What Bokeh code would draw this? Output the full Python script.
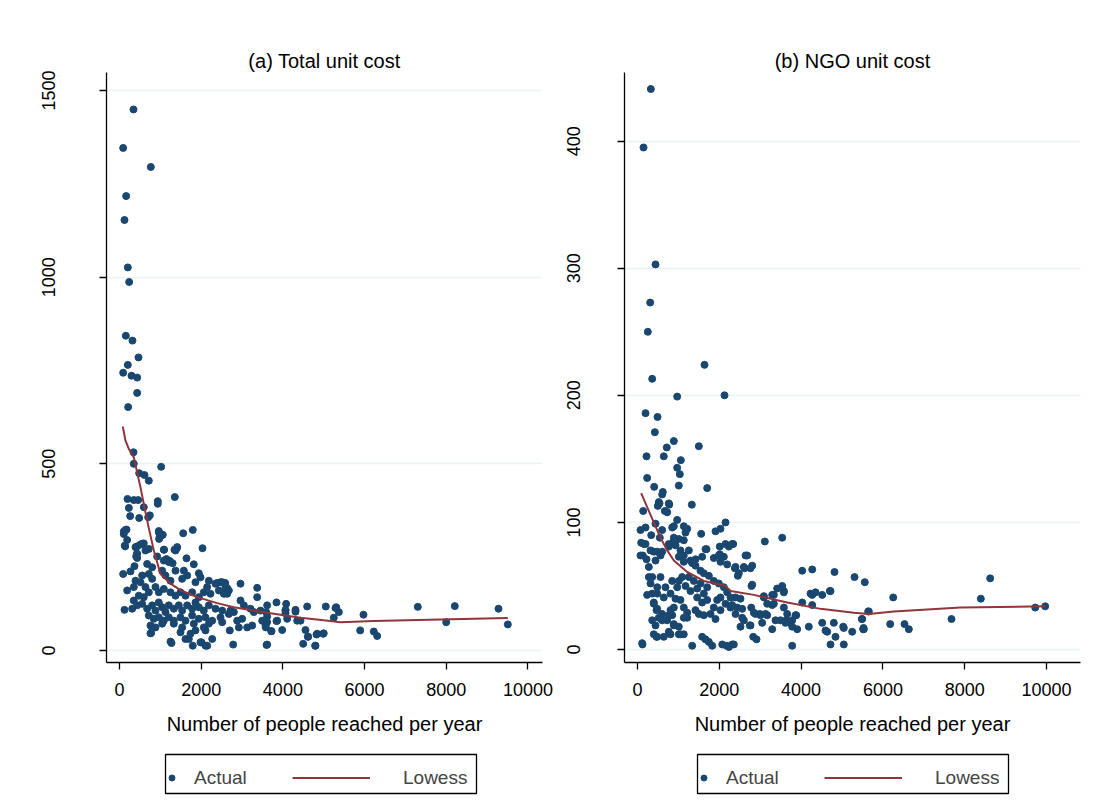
from bokeh.plotting import figure
from bokeh.models import Range1d, Legend, LegendItem, FixedTicker, BoxAnnotation
from bokeh.layouts import row, column
from bokeh.embed import file_html
from bokeh.resources import INLINE

# ---------------- data ----------------
x_ticks = [0, 2000, 4000, 6000, 8000, 10000]
a_yticks = [0, 500, 1000, 1500]
b_yticks = [0, 100, 200, 300, 400]
legend_labels = ["Actual", "Lowess"]

# (a) Total unit cost : people reached, unit cost
a_pts = [
    (343,1449),(90,1346),(767,1295),(163,1217),(122,1153),(204,1026),(237,987),(155,843),(318,830),(465,785),
    (204,765),(90,744),(294,736),(433,731),(433,690),(212,652),(343,531),(350,500),(1020,492),(482,475),
    (612,470),(718,455),(196,406),(350,403),(457,403),(229,382),(595,384),(938,400),(938,393),(1354,411),
    (262,360),(482,355),(702,357),(742,362),(106,319),(171,324),(188,296),(139,279),(962,320),(1028,308),
    (970,299),(1060,310),(1794,323),(1559,314),(1403,274),(1346,270),(2032,274),(392,277),(514,284),(595,287),
    (424,259),(408,252),(636,268),(718,272),(1092,270),(922,252),(1640,247),(1819,231),(1150,245),(1230,240),
    (1300,234),(367,226),(269,212),(90,205),(1942,207),(2391,181),(2587,181),(2962,179),(3370,168),(3370,143),
    (2636,167),(2578,159),(2636,152),(2962,134),(3843,129),(4080,125),(4594,118),(5050,118),(5305,116),(4064,109),
    (4064,100),(4309,109),(5370,103),(5246,88),(3590,103),(3615,91),(3843,79),(3983,55),(3713,52),(3582,62),
    (2700,54),(2783,16),(3600,15),(4497,18),(4620,37),(4790,13),(4987,45),(4823,43),(1273,20),(1616,31),
    (1794,13),(2007,22),(2147,13),(2270,31),(1738,45),(776,47),(783,64),(122,109),(5973,96),(5892,54),
    (6225,51),(6308,39),(7302,117),(7998,76),(8208,119),(9278,112),(9506,70),(147,323),(105,312),(962,317),
    (987,305),(130,281),(433,279),(555,286),(433,259),(433,248),(1085,270),(1412,277),(1371,268),(1085,241),
    (1207,237),(677,232),(800,223),(555,201),(718,205),(800,192),(392,187),(514,183),(350,170),(188,161),
    (1045,214),(1126,201),(1249,187),(1371,214),(1575,214),(1657,201),(1534,192),(1983,196),(1860,183),(2187,187),
    (2350,179),(2514,183),(2146,170),(2064,156),(2228,152),(2432,161),(636,170),(718,156),(595,143),(473,147),
    (881,170),(962,156),(1085,165),(1249,156),(1371,147),(1493,156),(1616,147),(1779,156),(1942,143),(1860,129),
    (350,134),(433,121),(311,112),(555,125),(677,112),(800,121),(881,107),(962,129),(1045,116),(1126,103),
    (1207,121),(1330,112),(1452,121),(1534,107),(1657,121),(1779,112),(1942,116),(2064,107),(2187,121),(2350,112),
    (2514,107),(718,94),(840,85),(962,89),(1085,80),(1207,89),(1330,80),(1493,89),(1616,80),(1779,94),
    (1942,85),(2105,89),(2269,80),(759,67),(881,62),(1045,72),(1330,72),(1534,62),(1820,72),(2064,62),
    (2187,72),(759,46),(1493,49),(1860,54),(2105,54),(1249,24),(1697,31),(1983,22),(2105,13),(2473,183),
    (2595,170),(2636,156),(2554,152),(2677,161),(3044,121),(2717,107),(2677,98),(2800,103),(3207,112),(3288,103),
    (3452,107),(3615,121),(4064,107),(4309,104),(2514,76),(2473,89),(2881,80),(2922,62),(3003,85),(3126,62),
    (3248,67),(3493,80),(3615,76),(3574,67),(3860,80),(4105,85),(4350,80),(4431,80),(3721,52),(4553,55),
    (4610,37),(4840,45),(5000,46),(5288,114),(3615,16),(4798,13),
]
a_x = [p[0] for p in a_pts]
a_y = [p[1] for p in a_pts]
a_lowess_x = [81, 147, 229, 350, 514, 677, 840, 1004, 1249, 1493, 1902, 2391, 2799, 3615, 4431, 5000, 5410, 6225, 7858, 9506]
a_lowess_y = [600, 562, 540, 518, 437, 348, 268, 205, 179, 162, 143, 127, 116, 101, 88, 81, 76, 79, 83, 87]

# (b) NGO unit cost
b_pts = [
    (326,441),(147,395),(440,303),(310,273),(252,250),(1638,224),(359,213),(970,199),(2127,200),(196,186),
    (489,183),(424,171),(888,164),(716,159),(1499,160),(220,152),(643,152),(1059,149),(970,143),(1034,138),
    (236,135),(1010,129),(408,128),(1704,127),(619,124),(603,122),(775,114),(538,115),(497,113),(1328,114),
    (139,109),(668,109),(726,108),(440,99),(970,102),(888,97),(848,96),(2152,100),(2029,95),(1907,93),
    (1132,97),(1215,95),(1174,92),(73,94),(196,96),(335,90),(603,94),(546,88),(888,88),(1557,91),
    (3113,85),(3538,88),(90,84),(196,83),(130,74),(399,77),(440,70),(220,71),(277,65),(359,57),
    (236,43),(603,77),(766,81),(929,82),(1051,78),(1132,74),(1255,78),(1418,71),(1337,68),(1687,79),
    (1866,72),(2012,81),(2152,83),(2233,81),(2340,83),(2012,75),(2111,73),(2029,69),(2193,67),(2380,64),
    (2478,60),(2453,58),(2617,64),(2682,74),(2805,66),(2763,64),(4027,62),(4272,63),(4817,61),(5306,57),
    (5557,53),(2805,51),(3538,50),(3333,43),(3578,46),(3089,42),(3293,35),(3171,36),(4027,37),(4272,43),
    (4272,35),(4516,43),(4719,46),(2780,33),(2844,29),(2991,28),(3171,27),(3374,23),(3636,23),(3782,23),
    (3880,27),(5494,24),(5640,30),(2560,25),(2518,18),(2746,19),(3293,16),(3782,18),(3904,16),(4188,18),
    (4516,21),(4800,21),(5029,18),(5518,16),(4597,15),(4841,10),(4719,4),(5044,4),(3782,3),(122,4),
    (1337,3),(1581,10),(1663,8),(1744,6),(1826,3),(2071,4),(2176,3),(2233,2),(2355,4),(482,49),
    (359,44),(399,37),(465,31),(521,25),(603,28),(726,23),(807,31),(888,33),(848,27),(643,41),
    (807,44),(929,40),(1051,39),(1132,33),(1215,29),(1215,25),(1132,25),(1051,12),(807,12),(643,10),
    (465,10),(888,20),(1010,18),(1010,73),(1132,69),(1296,70),(1418,66),(1540,62),(1622,60),(1744,58),
    (1866,54),(1988,52),(2111,49),(2193,45),(2274,41),(2029,41),(1948,39),(1866,33),(2029,31),(2152,36),
    (2274,33),(1704,49),(1622,44),(1540,52),(1459,48),(1377,54),(1255,57),(1092,57),(1010,54),(1174,50),
    (1296,46),(1459,41),(1581,37),(1704,39),(1785,28),(1907,24),(1622,27),(1500,28),(1418,31),(5655,30),
    (5484,24),(5526,17),(6252,41),(6178,20),(6528,20),(6634,16),(7677,24),(8394,40),(8623,56),(9724,33),
    (9968,34),(521,116),(766,115),(155,83),(318,78),(482,77),(562,74),(73,74),(277,57),(318,52),
    (562,57),(482,44),(684,49),(848,54),(970,49),(766,83),(888,86),(1010,87),(1132,86),(1581,73),
    (1663,79),(1988,74),(2314,83),(399,36),(482,32),(359,23),(440,19),(399,12),(482,10),(603,23),
    (766,27),(888,19),(766,14),(1010,12),(1132,12),(114,5),(2314,4),(2641,74),(2600,65),(2396,65),
    (2787,50),(3089,41),(3293,43),(3415,48),(3578,45),(4230,44),(4352,45),(4702,46),(2396,41),(2518,40),
    (2314,35),(2437,33),(2560,32),(2396,28),(2885,28),(3007,27),(3130,28),(3333,36),(3660,28),(3578,33),
    (3863,27),(2600,23),(2763,19),(3048,21),(3496,23),(3619,21),(3741,21),(5044,17),(5249,14),(5533,16),
    (2829,10),(2910,8),(4638,14),
]
b_x = [p[0] for p in b_pts]
b_y = [p[1] for p in b_pts]
b_lowess_x = [90, 236, 399, 562, 726, 888, 1215, 1622, 2029, 2152, 2274, 2844, 3660, 4474, 5289, 5655, 6267, 7897, 9968]
b_lowess_y = [123, 112, 100, 88, 78, 70, 61, 54, 51, 50, 46, 43, 37, 32, 29, 28, 30, 33, 34]

# ---------------- style ----------------
NAVY = "#1a476f"
MAROON = "#90353b"
GRID = "#eaf2f3"
FONT = "Liberation Sans"


def panel(title, xs, ys, lx, ly, yticks, xr, yr, left, fw, right, ystand):
    p = figure(frame_width=fw, frame_height=590, output_backend="svg", toolbar_location=None,
               x_range=Range1d(*xr), y_range=Range1d(*yr),
               min_border_left=left, min_border_right=right, min_border_top=72, min_border_bottom=83,
               background_fill_color="white", border_fill_color="white")
    p.outline_line_color = None
    p.title.text = title
    p.title.align = "center"
    p.title.text_font = FONT
    p.title.text_font_size = "20px"
    p.title.text_font_style = "normal"
    p.title.text_color = "black"
    p.title.standoff = 2

    p.xaxis.ticker = FixedTicker(ticks=x_ticks)
    p.yaxis.ticker = FixedTicker(ticks=yticks)
    for ax in (p.xaxis, p.yaxis):
        ax.axis_line_color = "black"
        ax.axis_line_width = 1.3
        ax.major_tick_line_color = "black"
        ax.major_tick_line_width = 1.3
        ax.major_tick_out = 7
        ax.major_tick_in = 0
        ax.minor_tick_line_color = None
        ax.major_label_text_font = FONT
        ax.major_label_text_font_size = "18px"
        ax.major_label_text_color = "black"
    p.yaxis.major_label_orientation = "vertical"
    p.yaxis.major_label_standoff = ystand
    p.xaxis.major_label_standoff = 13
    p.xaxis.axis_label = "Number of people reached per year"
    p.xaxis.axis_label_text_font = FONT
    p.xaxis.axis_label_text_font_size = "20px"
    p.xaxis.axis_label_text_font_style = "normal"
    p.xaxis.axis_label_text_color = "black"
    p.xaxis.axis_label_standoff = 14

    p.xgrid.visible = False
    p.ygrid.grid_line_color = GRID
    p.ygrid.grid_line_width = 1.6

    p.scatter(xs, ys, size=7, color=NAVY, line_color=NAVY)
    p.line(lx, ly, line_color=MAROON, line_width=2)
    return p


def legend_fig(xs, ys, lx, ly, left, fw, right, box_x):
    # strip under each panel holding the legend box; same borders as the panel so frames line up.
    # The series are drawn again here only to feed the legend keys; the ranges keep them out of view.
    lf = figure(frame_width=fw, frame_height=67, output_backend="svg", toolbar_location=None,
                x_range=Range1d(-3, -2), y_range=Range1d(-3, -2),
                min_border_left=left, min_border_right=right,
                min_border_top=0, min_border_bottom=0,
                x_axis_location=None, y_axis_location=None,
                background_fill_color="white", border_fill_color="white")
    lf.outline_line_color = None
    lf.xgrid.visible = False
    lf.ygrid.visible = False
    sc = lf.scatter(xs, ys, size=7, color=NAVY, line_color=NAVY)
    ln = lf.line(lx, ly, line_color=MAROON, line_width=2)

    # legend frame (screen units, relative to this strip's frame)
    lf.add_layout(BoxAnnotation(left=box_x, right=box_x + 311, bottom=19, top=58,
                                left_units="screen", right_units="screen",
                                bottom_units="screen", top_units="screen",
                                fill_color="white", fill_alpha=1.0,
                                line_color="black", line_width=1.3, line_alpha=1.0))

    common = dict(orientation="horizontal", padding=4, margin=0, spacing=0,
                  glyph_height=31, label_height=31,
                  label_text_font=FONT, label_text_font_size="19px",
                  border_line_color=None, background_fill_alpha=0.0)
    leg_a = Legend(items=[LegendItem(label=legend_labels[0], renderers=[sc])],
                   location=(box_x - 1, 19), glyph_width=15, label_standoff=15, **common)
    leg_b = Legend(items=[LegendItem(label=legend_labels[1], renderers=[ln])],
                   location=(box_x + 127, 19), glyph_width=78, label_standoff=33, **common)
    lf.add_layout(leg_a, "center")
    lf.add_layout(leg_b, "center")
    return lf


p1 = panel("(a) Total unit cost", a_x, a_y, a_lowess_x, a_lowess_y, a_yticks,
           (-318, 10355), (-32, 1548), 106, 436, 14, 44)
p2 = panel("(b) NGO unit cost", b_x, b_y, b_lowess_x, b_lowess_y, b_yticks,
           (-318, 10831), (-10.2, 454), 68, 456, 31, 37)
l1 = legend_fig(a_x, a_y, a_lowess_x, a_lowess_y, 106, 436, 14, 165 - 106)
l2 = legend_fig(b_x, b_y, b_lowess_x, b_lowess_y, 68, 456, 31, 697 - 624)

layout = row(column(p1, l1), column(p2, l2))
open("out.html", "w").write(file_html(layout, INLINE))
